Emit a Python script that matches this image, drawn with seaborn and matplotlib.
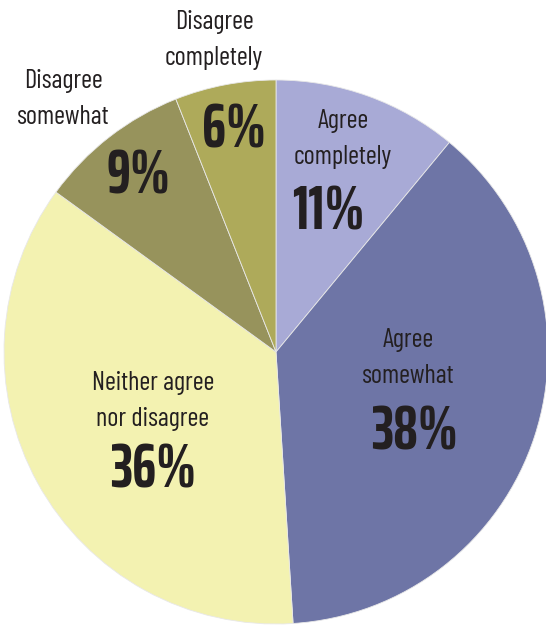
import matplotlib
matplotlib.use("Agg")
import matplotlib.pyplot as plt
import seaborn as sns

sns.set_style("white")

# data
categories = ["Agree\ncompletely", "Agree\nsomewhat", "Neither agree\nnor disagree",
              "Disagree\nsomewhat", "Disagree\ncompletely"]
values = [11, 38, 36, 9, 6]
pct_labels = ["11%", "38%", "36%", "9%", "6%"]
colors = ["#a8aad6", "#6e75a6", "#f3f2b1", "#97935c", "#aeaa5a"]

# layout (pixel positions of the text, from the reference)
name_pos = [(343, 139), (408, 358), (153, 401), (63, 99), (214, 40)]
pct_pos = [(328, 212), (414, 432), (153, 470), (138, 177), (234, 130)]

fam = ["Barlow Condensed", "Barlow Semi Condensed", "DejaVu Sans"]
fam_pct = ["Saira ExtraCondensed", "Barlow Condensed", "DejaVu Sans"]

W, H = 546, 625
cx, cy, r = 276, 352, 272
fig = plt.figure(figsize=(W / 100, H / 100), dpi=100)
ax = fig.add_axes([(cx - r) / W, (H - cy - r) / H, 2 * r / W, 2 * r / H])

ax.pie(values, colors=colors, startangle=90, counterclock=False, radius=1,
       wedgeprops=dict(edgecolor="#e8e8e8", linewidth=0.6))
ax.set_xlim(-1, 1)
ax.set_ylim(-1, 1)
ax.axis("off")


def to_data(px, py):
    return (px - cx) / r, (cy - py) / r


txt = "#231f20"
for name, pct, (nx, ny), (qx, qy) in zip(categories, pct_labels, name_pos, pct_pos):
    x, y = to_data(nx, ny)
    ax.text(x, y, name, ha="center", va="center", fontsize=19, color=txt,
            family=fam, fontweight="normal", linespacing=1.6, clip_on=False)
    x, y = to_data(qx, qy)
    ax.text(x, y, pct, ha="center", va="center", fontsize=44, color=txt,
            family=fam_pct, fontweight="bold", clip_on=False)

fig.savefig("out.png", dpi=100)
